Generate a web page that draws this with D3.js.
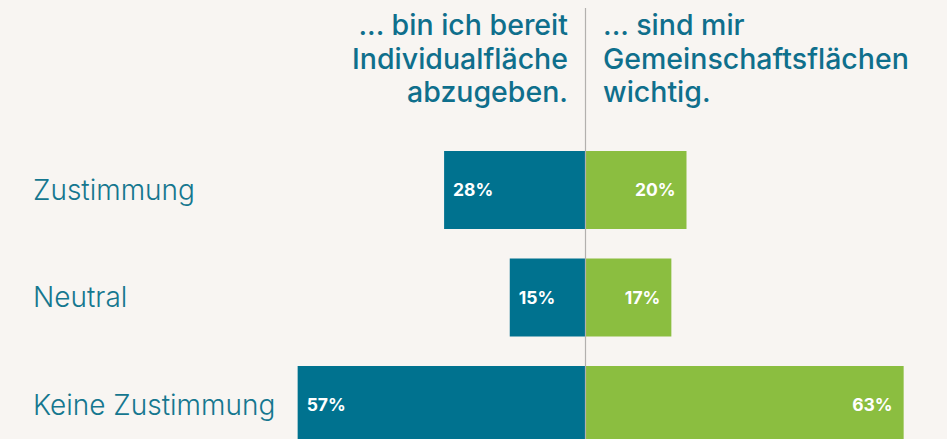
<!DOCTYPE html>
<html>
<head>
<meta charset="utf-8">
<script src="https://cdn.jsdelivr.net/npm/d3@7/dist/d3.min.js"></script>
<style>
  html, body { margin: 0; padding: 0; background: #f8f5f2; }
  svg { display: block; }
  .cat { font-family: Inter, "Noto Sans", sans-serif; font-weight: 300; font-size: 28px; fill: #15778f; }
  .head { font-family: Inter, "Noto Sans", sans-serif; font-weight: 500; font-size: 28.5px; fill: #0f6f8c; }
  .val { font-family: Inter, "Noto Sans", sans-serif; font-weight: 700; font-size: 17.5px; fill: #ffffff; }
</style>
</head>
<body>
<div id="chart"></div>
<script>
// categories and series (percent)
var categories = ['Zustimmung', 'Neutral', 'Keine Zustimmung'];
var leftValues = [28, 15, 57];   // ... bin ich bereit Individualfläche abzugeben.
var rightValues = [20, 17, 63];  // ... sind mir Gemeinschaftsflächen wichtig.
var leftHeader = ['... bin ich bereit', 'Individualfläche', 'abzugeben.'];
var rightHeader = ['... sind mir', 'Gemeinschaftsflächen', 'wichtig.'];

(function () {
    'use strict';

    var width = 947;
    var height = 439;
    var centerX = 585.5;
    var blue = '#00728f';
    var green = '#8bbe40';

    var svg = d3.select('#chart').append('svg')
        .attr('width', width)
        .attr('height', height);

    svg.append('rect').attr('width', width).attr('height', height).attr('fill', '#f8f5f2');

    // one percent is roughly 5.05 px on both sides
    var x = d3.scaleLinear().domain([0, 100]).range([0, 505]);

    var y = d3.scaleBand()
        .domain(categories)
        .range([151, 444])
        .paddingInner(0.2744)
        .paddingOuter(0);

    // category labels
    svg.append('g').selectAll('text')
        .data(categories).join('text')
        .attr('class', 'cat')
        .attr('x', 33)
        .attr('y', function (d) { return y(d) + y.bandwidth() / 2; })
        .attr('dy', '0.35em')
        .text(function (d) { return d; });

    var rows = categories.map(function (c, i) {
        return { cat: c, left: leftValues[i], right: rightValues[i] };
    });

    // left bars
    svg.append('g').selectAll('rect')
        .data(rows).join('rect')
        .attr('x', function (d) { return centerX - x(d.left); })
        .attr('y', function (d) { return y(d.cat); })
        .attr('width', function (d) { return x(d.left); })
        .attr('height', y.bandwidth())
        .attr('fill', blue);

    // right bars
    svg.append('g').selectAll('rect')
        .data(rows).join('rect')
        .attr('x', centerX)
        .attr('y', function (d) { return y(d.cat); })
        .attr('width', function (d) { return x(d.right); })
        .attr('height', y.bandwidth())
        .attr('fill', green);

    // center divider
    svg.append('line')
        .attr('x1', centerX).attr('x2', centerX)
        .attr('y1', 8).attr('y2', height)
        .attr('stroke', '#b3b0ae')
        .attr('stroke-width', 1.2);

    // value labels
    svg.append('g').selectAll('text')
        .data(rows).join('text')
        .attr('class', 'val')
        .attr('x', function (d) { return centerX - x(d.left) + 9; })
        .attr('y', function (d) { return y(d.cat) + y.bandwidth() / 2; })
        .attr('dy', '0.35em')
        .text(function (d) { return d.left + '%'; });

    svg.append('g').selectAll('text')
        .data(rows).join('text')
        .attr('class', 'val')
        .attr('text-anchor', 'end')
        .attr('x', function (d) { return centerX + x(d.right) - 11; })
        .attr('y', function (d) { return y(d.cat) + y.bandwidth() / 2; })
        .attr('dy', '0.35em')
        .text(function (d) { return d.right + '%'; });

    // column headers
    var lineY = [35, 69, 102];
    svg.append('g').selectAll('text')
        .data(leftHeader).join('text')
        .attr('class', 'head')
        .attr('text-anchor', 'end')
        .attr('x', 568)
        .attr('y', function (d, i) { return lineY[i]; })
        .text(function (d) { return d; });

    svg.append('g').selectAll('text')
        .data(rightHeader).join('text')
        .attr('class', 'head')
        .attr('x', 603)
        .attr('y', function (d, i) { return lineY[i]; })
        .text(function (d) { return d; });
})();
</script>
</body>
</html>
